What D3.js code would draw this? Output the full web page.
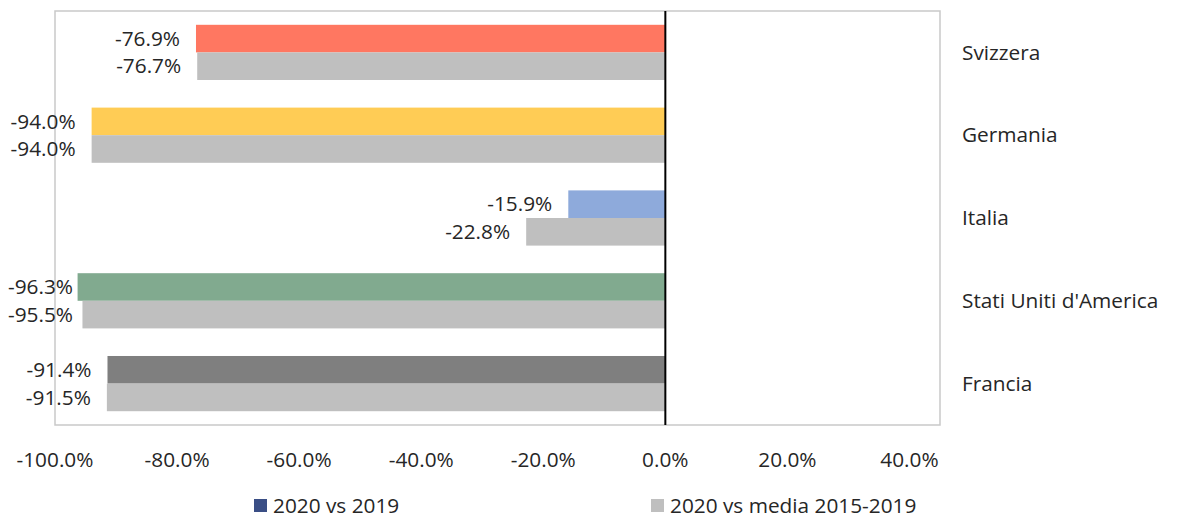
<!DOCTYPE html>
<html>
<head>
<meta charset="utf-8">
<script src="https://cdn.jsdelivr.net/npm/d3@7"></script>
<style>
  body { margin: 0; background: #fff; }
  text { font-family: "Open Sans", sans-serif; fill: #262626; }
</style>
</head>
<body>
<div id="chart"></div>
<script>
// data, top to bottom
var categories = ["Svizzera", "Germania", "Italia", "Stati Uniti d'America", "Francia"];
var vs2019 = [-76.9, -94.0, -15.9, -96.3, -91.4];
var vsMedia = [-76.7, -94.0, -22.8, -95.5, -91.5];
var pointColors = ["#ff7761", "#ffcc55", "#8eaadb", "#81aa8f", "#7f7f7f"];
var seriesNames = ["2020 vs 2019", "2020 vs media 2015-2019"];
var legendColors = ["#3a4e85", "#bfbfbf"];
var tickValues = [-100, -80, -60, -40, -20, 0, 20, 40];

var width = 1178, height = 519;
var plot = { left: 55, right: 940, top: 11, bottom: 425 };
var fs = '20.8px';

var svg = d3.select('#chart')
    .append('svg')
    .attr('width', width)
    .attr('height', height);

var x = d3.scaleLinear()
    .domain([-100, 45])
    .range([plot.left, plot.right]);

var y = d3.scaleBand()
    .domain(categories)
    .range([plot.top, plot.bottom])
    .paddingInner(0.3333)
    .paddingOuter(0.1667);

var sub = d3.scaleBand()
    .domain([0, 1])
    .range([0, y.bandwidth()]);

// plot border
svg.append('rect')
    .attr('x', plot.left)
    .attr('y', plot.top)
    .attr('width', plot.right - plot.left)
    .attr('height', plot.bottom - plot.top)
    .attr('fill', 'none')
    .attr('stroke', '#c9c9c9')
    .attr('stroke-width', 1.5);

var rows = categories.map(function(c, i) {
  return { cat: c, vals: [vs2019[i], vsMedia[i]], color: pointColors[i] };
});

var g = svg.selectAll('.cat')
    .data(rows)
    .enter().append('g')
    .attr('class', 'cat')
    .attr('transform', function(d) { return 'translate(0,' + y(d.cat) + ')'; });

g.selectAll('rect')
    .data(function(d) {
      return d.vals.map(function(v, k) { return { v: v, k: k, color: k === 0 ? d.color : '#bfbfbf' }; });
    })
    .enter().append('rect')
    .attr('x', function(d) { return x(Math.min(0, d.v)); })
    .attr('y', function(d) { return sub(d.k); })
    .attr('width', function(d) { return Math.abs(x(d.v) - x(0)); })
    .attr('height', sub.bandwidth())
    .attr('fill', function(d) { return d.color; });

// data labels, pushed back inside the chart when they would overflow
g.selectAll('.lbl')
    .data(function(d) { return d.vals.map(function(v, k) { return { v: v, k: k }; }); })
    .enter().append('text')
    .attr('class', 'lbl')
    .attr('y', function(d) { return sub(d.k) + sub.bandwidth() / 2; })
    .attr('dy', '0.35em')
    .attr('text-anchor', 'end')
    .style('font-size', fs)
    .text(function(d) { return d.v.toFixed(1) + '%'; })
    .attr('x', function(d) {
      var w = this.getComputedTextLength();
      return Math.max(x(d.v) - 16, 8 + w);
    });

// zero axis line
svg.append('line')
    .attr('x1', x(0)).attr('x2', x(0))
    .attr('y1', plot.top).attr('y2', plot.bottom)
    .attr('stroke', '#000')
    .attr('stroke-width', 2);

// category labels on the right
svg.selectAll('.catlbl')
    .data(categories)
    .enter().append('text')
    .attr('class', 'catlbl')
    .attr('x', 962)
    .attr('y', function(d) { return y(d) + y.bandwidth() / 2; })
    .attr('dy', '0.35em')
    .style('font-size', fs)
    .text(function(d) { return d; });

// x axis tick labels
svg.selectAll('.tick')
    .data(tickValues)
    .enter().append('text')
    .attr('class', 'tick')
    .attr('x', function(d) { return x(d); })
    .attr('y', 460)
    .attr('dy', '0.35em')
    .attr('text-anchor', 'middle')
    .style('font-size', fs)
    .text(function(d) { return d.toFixed(1) + '%'; });

// legend
var legX = [254, 651];
var leg = svg.selectAll('.leg')
    .data(seriesNames)
    .enter().append('g')
    .attr('class', 'leg')
    .attr('transform', function(d, i) { return 'translate(' + legX[i] + ',506)'; });
leg.append('rect')
    .attr('x', 0).attr('y', -7)
    .attr('width', 13).attr('height', 13)
    .attr('fill', function(d, i) { return legendColors[i]; });
leg.append('text')
    .attr('x', 19)
    .attr('dy', '0.35em')
    .style('font-size', fs)
    .text(function(d) { return d; });
</script>
</body>
</html>
